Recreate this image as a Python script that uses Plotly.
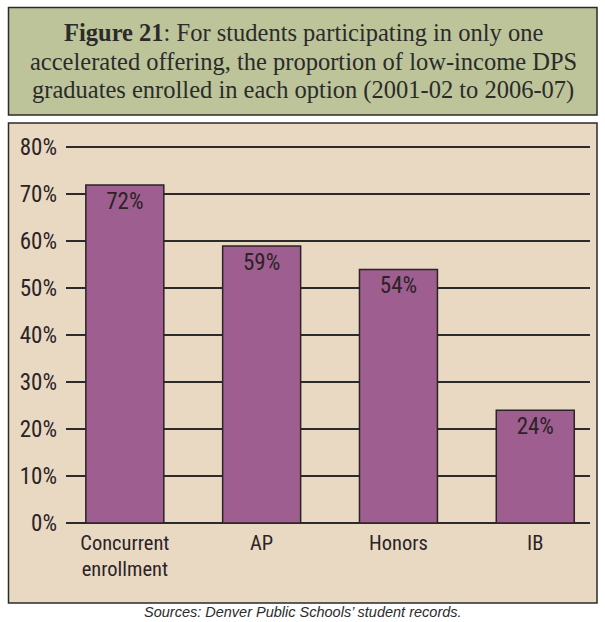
import plotly.graph_objects as go

categories = ["Concurrent<br>enrollment", "AP", "Honors", "IB"]
values = [72, 59, 54, 24]
labels = ["72%", "59%", "54%", "24%"]
y_ticks = [0, 10, 20, 30, 40, 50, 60, 70, 80]
y_tick_labels = ["0%", "10%", "20%", "30%", "40%", "50%", "60%", "70%", "80%"]
title_lines = [
    "<b>Figure 21</b>: For students participating in only one",
    "accelerated offering, the proportion of low-income DPS",
    "graduates enrolled in each option (2001-02 to 2006-07)",
]
source_text = "<i>Sources: Denver Public Schools’ student records.</i>"

W, H = 605, 622
L, R, T, B = 66, 590, 146, 523
NARROW = "Liberation Sans Narrow, Arial Narrow, Roboto Condensed, Liberation Sans, sans-serif"
SERIF = "Liberation Serif, DejaVu Serif, serif"
INK = "#2b2326"

def px(x):
    return (x - L) / (R - L)

def py(y):
    return (B - y) / (B - T)

fig = go.Figure()
fig.add_trace(go.Bar(
    x=list(range(len(categories))), y=values, text=labels,
    textposition="inside", insidetextanchor="end",
    textfont=dict(family=NARROW, size=23, color=INK),
    marker=dict(color="#9e5e8f", line=dict(color=INK, width=1.5)),
    width=0.57, cliponaxis=False,
))

shapes = [
    dict(type="rect", xref="paper", yref="paper", x0=px(8.5), x1=px(597), y0=py(7.5), y1=py(115),
         fillcolor="#bdc49a", line=dict(color="#2b2b2b", width=1.5), layer="below"),
    dict(type="rect", xref="paper", yref="paper", x0=px(8.5), x1=px(597), y0=py(123), y1=py(603),
         fillcolor="#e9d9c3", line=dict(color="#2b2b2b", width=1.5), layer="below"),
]

annotations = []
for i, line in enumerate(title_lines):
    annotations.append(dict(
        xref="paper", yref="paper", x=px(303), y=py(32 + 29 * i),
        xanchor="center", yanchor="middle", showarrow=False,
        text=line, font=dict(family=SERIF, size=24.5, color="#2b2b2b")))
annotations.append(dict(
    xref="paper", yref="paper", x=px(302.5), y=py(612), xanchor="center", yanchor="middle",
    showarrow=False, text=source_text,
    font=dict(family="Liberation Sans, Arial, sans-serif", size=14.5, color="#2b2b2b")))

fig.update_layout(
    width=W, height=H,
    margin=dict(l=L, r=W - R, t=T, b=H - B),
    paper_bgcolor="white", plot_bgcolor="rgba(0,0,0,0)",
    showlegend=False, shapes=shapes, annotations=annotations,
    xaxis=dict(tickvals=list(range(len(categories))), ticktext=categories,
               range=[-0.43, 3.40], showgrid=False, zeroline=False, showline=False,
               tickfont=dict(family=NARROW, size=20.5, color=INK), ticks="", ticklabelstandoff=5),
    yaxis=dict(range=[0, 80.3], tickvals=y_ticks, ticktext=y_tick_labels,
               showgrid=True, gridcolor="#2b2b2b", gridwidth=1.5,
               zeroline=True, zerolinecolor="#2b2b2b", zerolinewidth=1.5, showline=False,
               tickfont=dict(family=NARROW, size=23, color=INK), ticks="", ticklabelstandoff=8),
)

fig.write_html("out.html", config={"displayModeBar": False},
               post_script="document.body.style.margin='0';document.body.style.overflow='hidden';")
